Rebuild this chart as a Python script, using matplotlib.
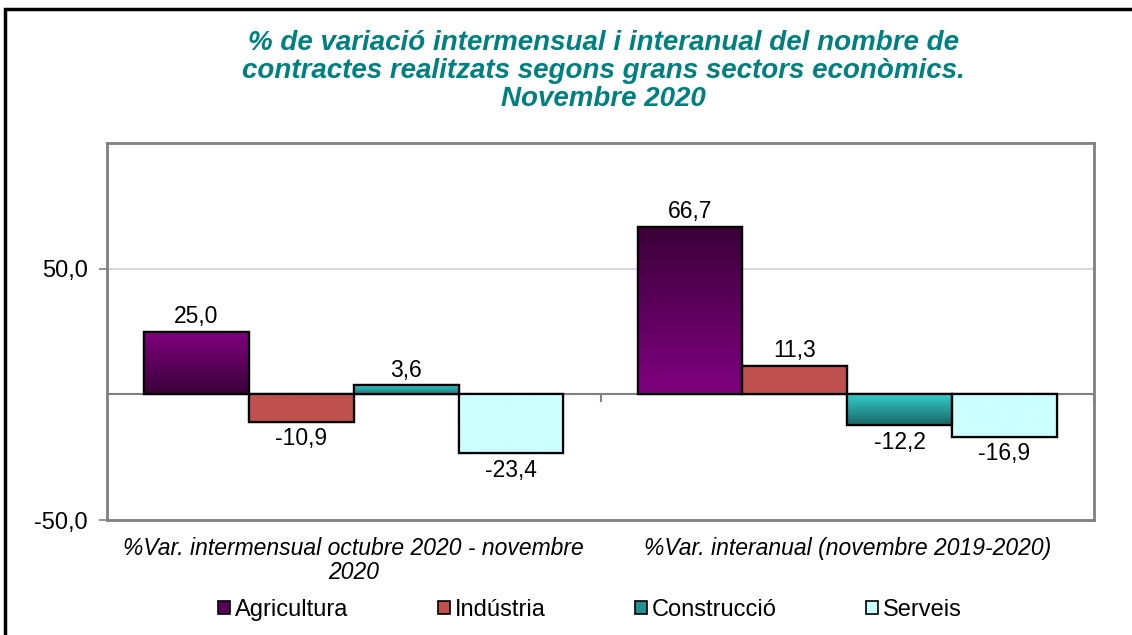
import matplotlib
matplotlib.use("Agg")
import matplotlib.pyplot as plt
import numpy as np
from matplotlib.patches import Rectangle, Patch
from matplotlib.colors import LinearSegmentedColormap

plt.rcParams['font.family'] = ['Liberation Sans', 'DejaVu Sans']

categories = ["%Var. intermensual octubre 2020 - novembre\n2020",
              "%Var. interanual (novembre 2019-2020)"]
series = ["Agricultura", "Indústria", "Construcció", "Serveis"]
agricultura = [25.0, 66.7]
industria = [-10.9, 11.3]
construccio = [3.6, -12.2]
serveis = [-23.4, -16.9]
values = [agricultura, industria, construccio, serveis]

# style: (top color, bottom color) per bar per group
grads = {
    "Agricultura": [("#800080", "#3a0038"), ("#3a0038", "#800080")],
    "Indústria": [("#c0504d", "#c0504d"), ("#c0504d", "#c0504d")],
    "Construcció": [("#33cccc", "#1f7a7a"), ("#33cccc", "#1a6666")],
    "Serveis": [("#ccffff", "#ccffff"), ("#ccffff", "#ccffff")],
}
legend_colors = ["#5a005a", "#c0504d", "#239090", "#ccffff"]

W, H = 1132, 635
fig = plt.figure(figsize=(W / 100, H / 100), dpi=100)
ax = fig.add_axes([107 / W, 1 - 520 / H, (1094 - 107) / W, (520 - 143) / H])

x = np.arange(len(categories))
bw = 0.2125
fs = 16.5
for i, (name, vals) in enumerate(zip(series, values)):
    offs = (i - 1.5) * bw
    bars = ax.bar(x + offs, vals, bw, color=legend_colors[i], edgecolor="black",
                  linewidth=1.6, zorder=3)
    for j, b in enumerate(bars):
        top_c, bot_c = grads[name][j]
        cmap = LinearSegmentedColormap.from_list("g", [bot_c, top_c])
        x0, w = b.get_x(), b.get_width()
        y0, h = b.get_y(), b.get_height()
        ylo, yhi = min(y0, y0 + h), max(y0, y0 + h)
        grad = np.linspace(1, 0, 256).reshape(-1, 1)
        ax.imshow(grad, cmap=cmap, aspect="auto", extent=[x0, x0 + w, ylo, yhi],
                  zorder=3.5, vmin=0, vmax=1, interpolation="bilinear")
        ax.add_patch(Rectangle((x0, y0), w, h, fill=False, edgecolor="black",
                               linewidth=1.6, zorder=4))
        v = vals[j]
        lab = f"{v:.1f}".replace(".", ",")
        if v >= 0:
            ax.annotate(lab, (x0 + w / 2, v), xytext=(0, 2.5), textcoords="offset points",
                        ha="center", va="bottom", fontsize=fs, zorder=5)
        else:
            ax.annotate(lab, (x0 + w / 2, v), xytext=(0, -4), textcoords="offset points",
                        ha="center", va="top", fontsize=fs, zorder=5)

ax.set_xlim(-0.5, 1.5)
ax.set_ylim(-50, 100)
ax.set_yticks([-50, 50])
ax.set_yticklabels(["-50,0", "50,0"], fontsize=17)
ax.tick_params(axis="y", length=6, width=1.2, color="#808080", pad=8)
ax.set_xticks(x)
ax.set_xticklabels(categories, fontsize=16.5, fontstyle="italic", linespacing=1.08)
ax.tick_params(axis="x", length=0, pad=12)
ax.grid(axis="y", color="#d9d9d9", linewidth=1.5, zorder=0)
ax.axhline(0, color="#808080", linewidth=1.5, zorder=2)
for xb in [0.5, 1.5]:
    ax.plot([xb, xb], [0, -2.6], color="#808080", linewidth=1.5, zorder=2, clip_on=False)
for s in ax.spines.values():
    s.set_color("#808080")
    s.set_linewidth(2)

fig.text(603 / W, 1 - 71 / H,
         "% de variació intermensual i interanual del nombre de\n"
         "contractes realitzats segons grans sectors econòmics.\n"
         "Novembre 2020",
         ha="center", va="center", fontsize=20, fontweight="bold", fontstyle="italic",
         color="#008080", linespacing=1.1)

handles = [Patch(facecolor=c, edgecolor="black", linewidth=1.2) for c in legend_colors]
fig.legend(handles, series, loc="center", bbox_to_anchor=(590 / W, 1 - 610 / H), ncol=4,
           frameon=False, fontsize=17, handlelength=0.5, handleheight=0.5,
           handletextpad=0.2, columnspacing=3.8)

fig.add_artist(Rectangle((5 / W, -0.1), 2, (H - 9) / H + 0.1, transform=fig.transFigure,
                         fill=False, edgecolor="black", linewidth=2.5))

fig.savefig("out.png", dpi=100)
